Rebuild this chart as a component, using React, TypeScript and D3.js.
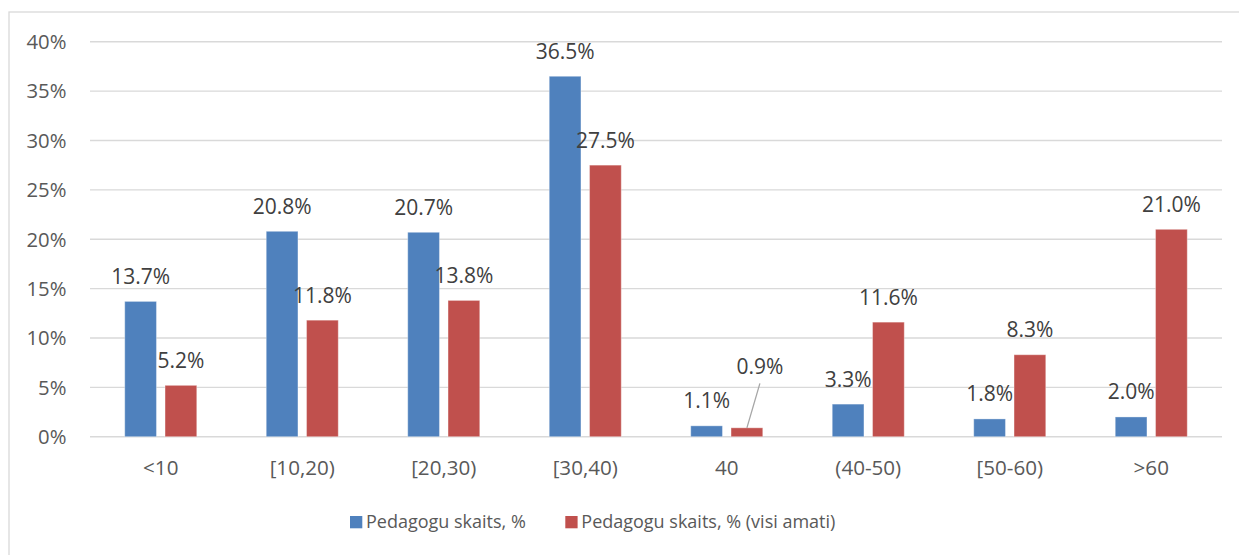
import React from "react";
import * as d3 from "d3";

const categories = ["<10", "[10,20)", "[20,30)", "[30,40)", "40", "(40-50)", "[50-60)", ">60"];
const seriesNames = ["Pedagogu skaits, %", "Pedagogu skaits, % (visi amati)"];
const seriesA = [13.7, 20.8, 20.7, 36.5, 1.1, 3.3, 1.8, 2.0];
const seriesB = [5.2, 11.8, 13.8, 27.5, 0.9, 11.6, 8.3, 21.0];
const yTicks = [0, 5, 10, 15, 20, 25, 30, 35, 40];
const colors = ["#4F81BD", "#C0504D"];

const W = 1239;
const H = 555;
const FONT = "'Open Sans', sans-serif";

export default function App() {
  const x = d3.scaleBand<string>().domain(categories).range([90, 1222]).paddingInner(0.491).paddingOuter(0.2455);
  const xs = d3.scaleBand<string>().domain(["a", "b"]).range([0, x.bandwidth()]).paddingInner(0.213).paddingOuter(0);
  const y = d3.scaleLinear().domain([0, 40]).range([436.7, 41.7]);
  const series = [seriesA, seriesB];
  const keys = ["a", "b"];

  return (
    <svg width={W} height={H} style={{ position: "absolute", left: 0, top: 0, background: "#fff" }}>
      <rect x={9} y={12} width={1260} height={600} fill="#fff" stroke="#d9d9d9" strokeWidth={1.3} />
      {yTicks.map((t) => (
        <g key={t}>
          <line x1={90} x2={1222} y1={y(t)} y2={y(t)} stroke="#d9d9d9" strokeWidth={1.4} />
          <text x={66.5} y={y(t) + 7.3} textAnchor="end" fontFamily={FONT} fontSize={20.3} fill="#595959">
            {t}%
          </text>
        </g>
      ))}
      {categories.map((c, i) => (
        <g key={c}>
          {series.map((s, k) => {
            const bx = (x(c) ?? 0) + (xs(keys[k]) ?? 0);
            return (
              <rect
                key={k}
                x={bx}
                y={y(s[i])}
                width={xs.bandwidth()}
                height={y(0) - y(s[i])}
                fill={colors[k]}
                stroke="#ffffff"
                strokeOpacity={0.35}
                strokeWidth={1}
              />
            );
          })}
          <text
            x={(x(c) ?? 0) + x.bandwidth() / 2}
            y={475.2}
            textAnchor="middle"
            fontFamily={FONT}
            fontSize={20.6}
            fill="#595959"
          >
            {c}
          </text>
        </g>
      ))}
      {categories.map((c, i) =>
        series.map((s, k) => {
          const cx = (x(c) ?? 0) + (xs(keys[k]) ?? 0) + xs.bandwidth() / 2;
          const top = y(s[i]);
          const moved = c === "40" && k === 1;
          const lx = moved ? cx + 13 : cx;
          const ly = moved ? top - 61.5 : top - 25;
          return (
            <g key={c + k}>
              {moved && <line x1={cx} y1={top} x2={cx + 13} y2={top - 44.5} stroke="#a6a6a6" strokeWidth={1.3} />}
              <text x={lx} y={ly + 7.5} textAnchor="middle" fontFamily={FONT} fontSize={21} fill="#404040">
                {s[i].toFixed(1)}%
              </text>
            </g>
          );
        })
      )}
      <g>
        <rect x={350} y={516} width={12.3} height={12.3} fill={colors[0]} />
        <text x={366} y={528.3} fontFamily={FONT} fontSize={18} fill="#595959">
          {seriesNames[0]}
        </text>
        <rect x={565.3} y={516} width={12.3} height={12.3} fill={colors[1]} />
        <text x={581.3} y={528.3} fontFamily={FONT} fontSize={18} fill="#595959">
          {seriesNames[1]}
        </text>
      </g>
    </svg>
  );
}
